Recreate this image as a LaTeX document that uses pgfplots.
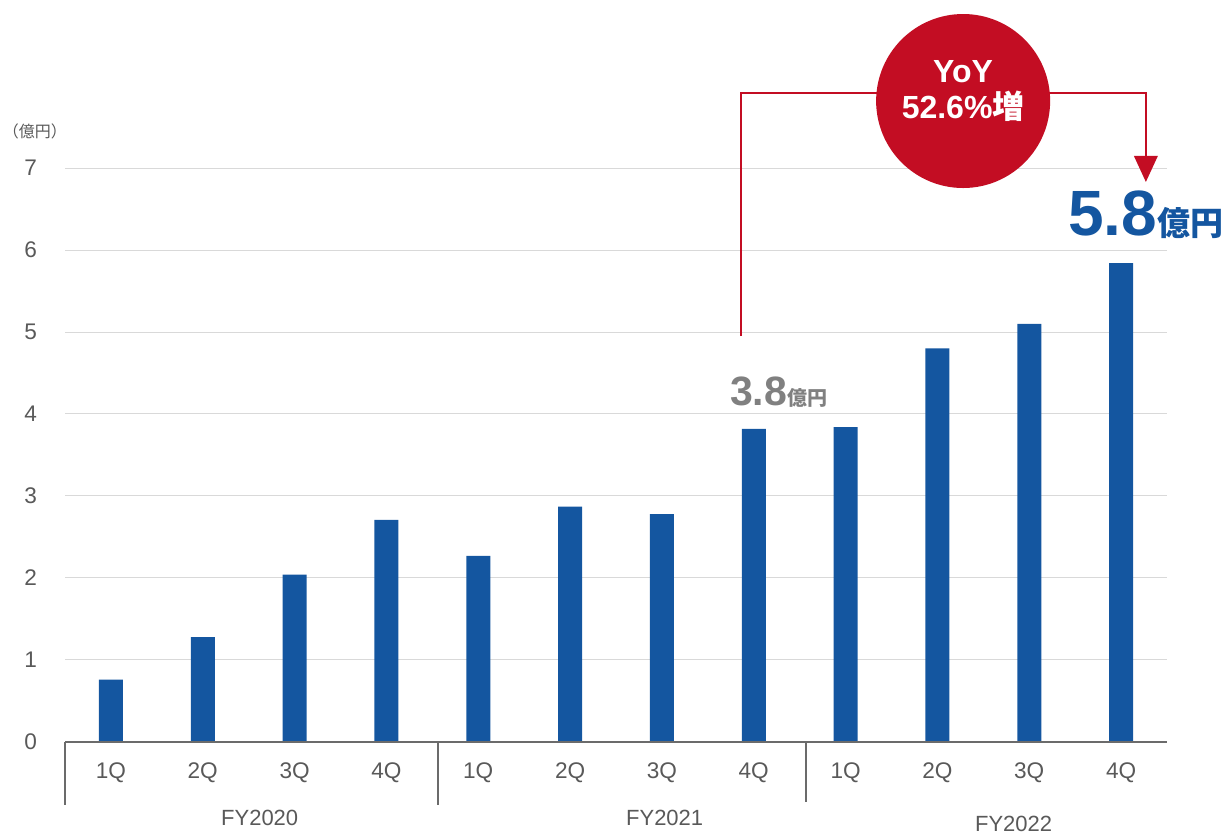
\documentclass[border=0pt]{standalone}
\usepackage{pgfplots}
\pgfplotsset{compat=1.18}
\usepackage{fontspec}
\setmainfont{Liberation Sans}
\newfontfamily\cjk{Noto Sans CJK JP}
\newfontfamily\cjkb{Noto Sans CJK JP Bold}
\definecolor{barblue}{HTML}{1456A0}
\definecolor{yoyred}{HTML}{C30D23}
\definecolor{txtgray}{HTML}{595959}
\definecolor{axgray}{HTML}{6B6B6B}
\definecolor{gridgray}{HTML}{D9D9D9}
\definecolor{numgray}{HTML}{808080}
\begin{document}
\begin{tikzpicture}
\useasboundingbox (0,0) rectangle (614pt,417pt);
\begin{axis}[
  at={(32.5pt,46pt)}, anchor=south west,
  scale only axis, width=551pt, height=287pt,
  xmin=-0.5, xmax=11.5, ymin=0, ymax=7,
  axis line style={draw=none},
  ytick={0,...,7}, xtick={0,...,11},
  xticklabels={1Q,2Q,3Q,4Q,1Q,2Q,3Q,4Q,1Q,2Q,3Q,4Q},
  tick style={draw=none},
  ymajorgrids, grid style={gridgray, line width=0.5pt},
  ticklabel style={font=\fontsize{11.3}{13}\selectfont, text=txtgray},
  xticklabel style={yshift=-7pt},
  yticklabel style={xshift=-10.5pt},
  /pgf/number format/assume math mode=true,
  clip=false,
]
\addplot[ybar, bar width=12pt, bar shift=0pt, fill=barblue, draw=none]
  coordinates {(0,0.76) (1,1.28) (2,2.04) (3,2.71) (4,2.27) (5,2.87) (6,2.78) (7,3.82) (8,3.84) (9,4.80) (10,5.10) (11,5.84)};
% axis line and separators
\draw[axgray, line width=1.1pt] (axis cs:-0.5,0) -- (axis cs:11.5,0);
\draw[axgray, line width=1.1pt] (axis cs:-0.5,0) -- ([yshift=-31.5pt]axis cs:-0.5,0);
\draw[axgray, line width=1.1pt] (axis cs:3.56,0) -- ([yshift=-31.5pt]axis cs:3.56,0);
\draw[axgray, line width=1.1pt] (axis cs:7.57,0) -- ([yshift=-30pt]axis cs:7.57,0);
% year labels
\node[text=txtgray, font=\fontsize{11}{13}\selectfont] at ([yshift=-38pt]axis cs:1.62,0) {FY2020};
\node[text=txtgray, font=\fontsize{11}{13}\selectfont] at ([yshift=-38pt]axis cs:6.03,0) {FY2021};
\node[text=txtgray, font=\fontsize{11}{13}\selectfont] at ([yshift=-41pt]axis cs:9.83,0) {FY2022};
% unit
\node[text=txtgray, font=\cjk\fontsize{8}{10}\selectfont] at ([xshift=-15pt]axis cs:-0.5,7.45) {（億円）};
% red bracket
\draw[yoyred, line width=1pt] (axis cs:6.86,4.95) -- (axis cs:6.86,7.915) -- (axis cs:11.27,7.915) -- (axis cs:11.27,7.1);
\fill[yoyred] (axis cs:11.27,6.83) -- ([xshift=-6pt,yshift=13pt]axis cs:11.27,6.83) -- ([xshift=6pt,yshift=13pt]axis cs:11.27,6.83) -- cycle;
\fill[yoyred] (axis cs:9.28,7.817) circle[radius=43.5pt];
\node[text=white, font=\bfseries\fontsize{16}{18}\selectfont, align=center] at (axis cs:9.28,7.94)
  {YoY\\52.6\%{\cjkb 増}};
% value labels
\node[text=numgray, inner sep=0pt] at (axis cs:7.27,4.27)
  {\bfseries\fontsize{20.5}{21}\selectfont 3.8{\cjkb\fontsize{10}{11}\selectfont 億円}};
\node[text=barblue, inner sep=0pt] at (axis cs:11.27,6.43)
  {\bfseries\fontsize{32}{34}\selectfont 5.8{\cjkb\fontsize{16.5}{18}\selectfont 億円}};
\end{axis}
\end{tikzpicture}
\end{document}
